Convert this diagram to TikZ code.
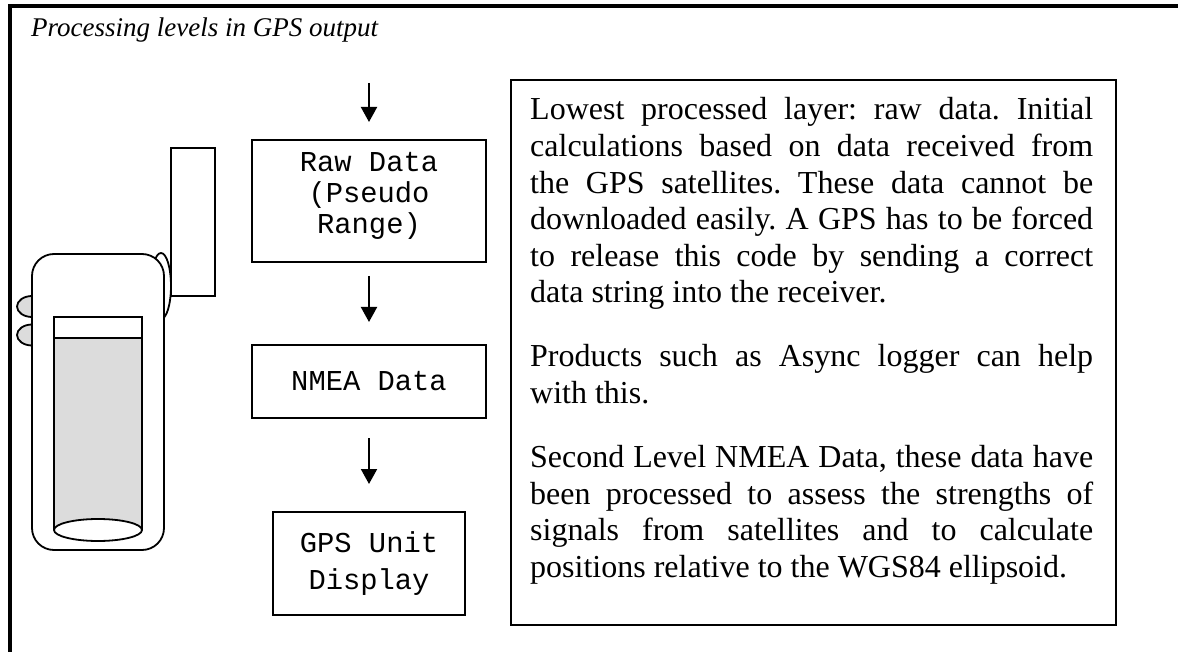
\documentclass[tikz,border=0pt]{standalone}
\usepackage{fontspec}
\setmainfont{Liberation Serif}
\setmonofont{Liberation Mono}
\usetikzlibrary{arrows.meta}
\definecolor{screengray}{HTML}{DCDCDC}

\begin{document}
\begin{tikzpicture}[x=1pt, y=-1pt,
  frame/.style={line width=4pt},
  outline/.style={draw=black, line width=1.8pt},
  stage/.style={draw, line width=2pt, align=center, inner sep=0pt,
    font=\ttfamily\fontsize{28.8}{31}\selectfont},
  flow/.style={line width=2pt, -{Triangle[width=16pt,length=15pt]}},
  bodytext/.style={inner sep=0pt, text width=563pt, align=justify,
    font=\fontsize{32}{36.6}\selectfont}]
\useasboundingbox (0,0) rectangle (1178,652);

% page frame (top and left rules)
\draw[frame] (10,652) -- (10,6) -- (1178,6);

% caption
\node[anchor=base west, inner sep=0pt, font=\itshape\fontsize{27}{30}\selectfont]
  (title) at (31,37) {Processing levels in GPS output};

% handheld receiver
\draw[outline, fill=white] (161,286) ellipse [x radius=10, y radius=33];
\draw[outline, fill=screengray] (32,306.5) ellipse [x radius=15, y radius=10.5];
\draw[outline, fill=screengray] (32,335) ellipse [x radius=15, y radius=10.5];
\draw[outline, fill=white, rounded corners=22pt] (32,254) rectangle (164,550);
\fill[screengray] (54,338) rectangle (142,530);
\draw[outline] (54,530) -- (54,317) -- (142,317) -- (142,530);
\draw[outline] (54,338) -- (142,338);
\draw[outline, fill=white] (98,530) ellipse [x radius=44, y radius=11];
\draw[outline, fill=white] (171,148) rectangle (215,296);

% processing stages
\node[stage, minimum width=234pt, minimum height=122pt, text depth=16pt]
  (raw) at (369,201) {Raw Data\\(Pseudo\\Range)};
\node[stage, minimum width=234pt, minimum height=73pt] (nmea) at (369,381.5)
  {NMEA Data};
\node[stage, minimum width=192pt, minimum height=103pt,
  font=\ttfamily\fontsize{28.8}{37}\selectfont] (unit) at (369,563.5)
  {GPS Unit\\Display};

\coordinate (feed) at (369,83);
\draw[flow] (feed) -- ([yshift=17pt]raw.north);
\draw[flow] ([yshift=-13pt]raw.south) -- ([yshift=22pt]nmea.north);
\draw[flow] ([yshift=-19pt]nmea.south) -- ([yshift=27pt]unit.north);

% explanation
\node[draw, line width=2pt, anchor=north west, inner sep=0pt,
  minimum width=605pt, minimum height=545pt] (descbox) at (510,79) {};
\node[bodytext, anchor=base west] (desc) at (530,120) {%
\frenchspacing\tolerance=10000\relax\hyphenpenalty=10000\relax
Lowest processed layer: raw data. Initial\linebreak
calculations based on data received from\linebreak
the GPS satellites. These data cannot be\linebreak
downloaded easily. A GPS has to be forced\linebreak
to release this code by sending a correct\linebreak
data string into the receiver.\par\vspace{27.4pt}
Products such as Async logger can help\linebreak
with this.\par\vspace{27.4pt}
Second Level NMEA Data, these data have\linebreak
been processed to assess the strengths of\linebreak
signals from satellites and to calculate\linebreak
positions relative to the WGS84 ellipsoid.};
\end{tikzpicture}
\end{document}
